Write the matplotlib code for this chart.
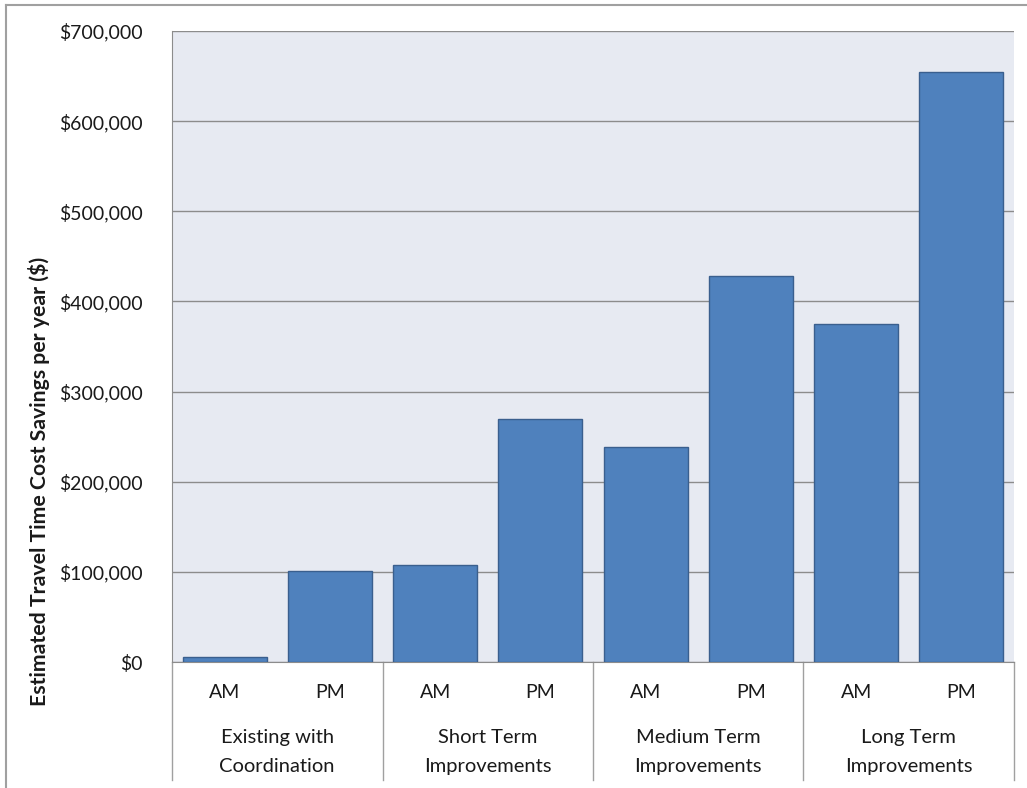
import numpy as np
import matplotlib.pyplot as plt
from matplotlib.lines import Line2D
from matplotlib.ticker import FuncFormatter

plt.rcParams['font.family'] = ['Lato', 'DejaVu Sans']

# data
groups = ['Existing with\nCoordination', 'Short Term\nImprovements',
          'Medium Term\nImprovements', 'Long Term\nImprovements']
periods = ['AM', 'PM']
savings = [6000, 101000, 108000, 270000, 238000, 428000, 375000, 655000]

W, H = 1027, 788
fig = plt.figure(figsize=(W / 100, H / 100), dpi=100)
ax = fig.add_axes([172 / W, 1 - 662 / H, (1014 - 172) / W, (662 - 31) / H])

x = np.arange(len(savings))
ax.bar(x, savings, width=0.8, color='#4F81BD', edgecolor='#3A5F8E', linewidth=1, zorder=3)

ax.set_facecolor('#E7EAF2')
ax.set_xlim(-0.5, len(savings) - 0.5)
ax.set_ylim(0, 700000)
ax.set_yticks(np.arange(0, 700001, 100000))
ax.yaxis.set_major_formatter(FuncFormatter(lambda v, p: '${:,.0f}'.format(v)))
ax.grid(axis='y', color='#8C8C8C', linewidth=1, zorder=1)
ax.tick_params(axis='y', length=0, pad=21, labelsize=14, labelcolor='#1a1a1a')

ax.set_xticks(x)
ax.set_xticklabels(periods * len(groups))
ax.tick_params(axis='x', length=0, pad=16, labelsize=14, labelcolor='#1a1a1a')

for s in ['top', 'right']:
    ax.spines[s].set_visible(False)
ax.spines['left'].set_color('#8C8C8C')
ax.spines['bottom'].set_color('#8C8C8C')

# category axis: group names and separators
tr = ax.get_xaxis_transform()
drop = (780 - 662) / (662 - 31)
for i, g in enumerate(groups):
    ax.text(2 * i + 0.5, -(752 - 662) / (662 - 31), g, transform=tr,
            ha='center', va='center', fontsize=14.5, color='#1a1a1a',
            linespacing=1.9)
for b in np.arange(-0.5, len(savings), 2):
    ax.plot([b, b], [0, -drop], transform=tr, color='#A0A0A0', lw=1, clip_on=False)

fig.text(39 / W, 1 - 481 / H, 'Estimated Travel Time Cost Savings per year ($)',
         rotation=90, ha='center', va='center', fontsize=15.3, fontweight='bold',
         color='#1a1a1a')

# outer chart frame (cut at right/bottom)
fig.add_artist(Line2D([6 / W, 6 / W], [0, 1 - 5 / H], color='#A0A0A0', lw=1.5))
fig.add_artist(Line2D([6 / W, 1], [1 - 5 / H, 1 - 5 / H], color='#A0A0A0', lw=1.5))

fig.savefig('out.png', dpi=100)
